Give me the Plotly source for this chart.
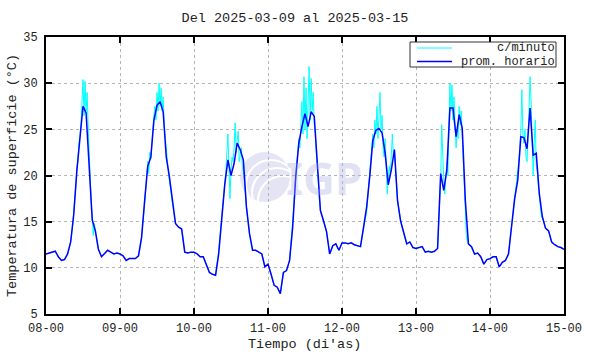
import plotly.graph_objects as go
from datetime import datetime, timedelta

# ---------------- data ----------------
start = datetime(2025, 3, 8)
tick_labels = ["08-00", "09-00", "10-00", "11-00", "12-00", "13-00", "14-00", "15-00"]

# hourly averages (prom. horario), hours 0..23 of each day
day1 = [11.5, 11.6, 11.7, 11.8, 11.2, 10.8, 10.9, 11.5, 12.8, 15.8, 20.5, 24.0,
        27.5, 26.8, 21.5, 15.2, 14.0, 12.0, 11.2, 11.5, 11.9, 11.7, 11.5, 11.6]
day2 = [11.5, 11.3, 10.8, 11.0, 11.0, 11.0, 11.3, 13.3, 17.3, 21.0, 22.0, 26.0,
        27.6, 28.0, 26.9, 22.0, 19.9, 17.0, 14.8, 14.4, 14.2, 11.7, 11.6, 11.7]
day3 = [11.7, 11.5, 11.2, 11.2, 10.4, 9.5, 9.3, 9.2, 11.5, 15.5, 19.1, 21.7,
        20.0, 21.3, 23.5, 22.8, 21.7, 16.6, 13.7, 11.9, 11.9, 11.7, 11.5, 10.1]
day4 = [10.4, 9.3, 8.1, 7.9, 7.2, 9.5, 9.7, 10.8, 14.4, 19.9, 23.5, 25.3,
        26.7, 25.3, 26.9, 26.4, 20.9, 16.2, 15.1, 13.9, 11.5, 12.4, 12.6, 11.9]
day5 = [12.7, 12.7, 12.6, 12.7, 12.5, 12.4, 12.3, 14.4, 16.6, 19.9, 23.8, 24.9,
        25.1, 24.6, 22.4, 19.0, 20.6, 22.8, 17.3, 15.1, 13.7, 12.6, 12.8, 12.2]
day6 = [12.1, 12.2, 12.3, 11.7, 11.8, 11.7, 11.8, 12.1, 20.2, 18.4, 20.6, 27.3,
        27.3, 24.2, 26.6, 25.1, 17.3, 12.6, 12.3, 11.5, 11.6, 11.2, 10.4, 10.9]
day7 = [11.0, 11.2, 11.2, 10.1, 10.6, 10.8, 11.5, 14.5, 17.5, 19.5, 24.2, 24.1,
        22.9, 27.3, 22.2, 22.4, 18.0, 15.5, 14.3, 14.0, 12.8, 12.5, 12.3, 12.2]
last_value = [12.0]

# minute readings (c/minuto) during daytime, every 20 min from 08:00 to 16:40
cyan1 = [12.8, 13.5, 14.6, 16.0, 17.2, 18.8, 20.8, 21.5, 23.5, 24.2, 25.5, 28.5, 30.4, 26.5,
         30.2, 27.0, 29.0, 25.5, 22.0, 19.5, 17.0, 15.5, 13.5, 14.8, 14.0, 13.2, 12.5]
cyan2 = [17.0, 18.5, 20.0, 21.5, 20.2, 22.5, 21.8, 23.0, 25.0, 26.5, 27.5, 26.0, 29.0, 27.0,
         30.0, 27.5, 29.5, 27.0, 28.5, 25.5, 24.0, 22.5, 21.0, 20.5, 19.5, 18.5, 17.5]
cyan3 = [11.8, 13.0, 14.5, 15.8, 17.0, 18.5, 19.5, 20.5, 22.5, 24.5, 21.0, 17.5, 20.5, 22.0,
         21.5, 23.0, 25.7, 22.5, 23.8, 24.8, 21.5, 22.5, 23.0, 21.0, 20.5, 19.5, 17.5]
cyan4 = [14.6, 16.5, 18.5, 20.0, 21.5, 23.0, 24.0, 23.0, 26.5, 28.0, 24.5, 30.7, 25.0, 29.5,
         24.0, 28.5, 31.8, 26.0, 30.5, 27.0, 29.0, 25.5, 24.5, 22.5, 20.5, 19.0, 17.5]
cyan5 = [16.0, 17.5, 19.0, 20.5, 22.0, 23.5, 24.5, 23.0, 26.0, 24.5, 27.5, 24.0, 27.0, 29.0,
         25.0, 26.5, 23.0, 22.0, 24.0, 20.5, 18.0, 19.5, 21.0, 20.0, 23.0, 24.5, 22.0]
cyan6 = [19.5, 25.5, 21.0, 19.5, 18.0, 19.5, 21.5, 20.0, 24.0, 30.0, 27.0, 29.8, 26.0, 28.5,
         25.5, 23.0, 25.0, 24.0, 27.5, 25.5, 27.0, 24.5, 22.0, 18.0, 15.5, 13.5, 12.8]
cyan7 = [17.0, 18.5, 19.0, 20.0, 21.5, 23.0, 25.0, 29.3, 24.5, 23.5, 25.0, 22.0, 21.5, 24.0,
         27.0, 30.7, 28.0, 24.5, 20.0, 23.5, 26.0, 21.0, 20.5, 19.0, 17.5, 16.0, 15.5]

hourly_days = [day1, day2, day3, day4, day5, day6, day7]
cyan_days = [cyan1, cyan2, cyan3, cyan4, cyan5, cyan6, cyan7]

# ---------------- build series ----------------
hourly = [v for d in hourly_days for v in d] + last_value
hourly_t = [start + timedelta(hours=i) for i in range(len(hourly))]

cyan_t, cyan_v = [], []
for d, (hd, cd) in enumerate(zip(hourly_days, cyan_days)):
    base = start + timedelta(days=d)
    pts = []
    for h, v in enumerate(hd):
        if h < 8 or h >= 17:
            pts.append((base + timedelta(hours=h), v))
    for k, v in enumerate(cd):
        pts.append((base + timedelta(minutes=480 + 20 * k), v))
    pts.sort()
    cyan_t += [p[0] for p in pts]
    cyan_v += [p[1] for p in pts]
cyan_t.append(hourly_t[-1])
cyan_v.append(last_value[0])

# ---------------- figure ----------------
FONT = "Liberation Mono"
TXT = "#222222"
L, R, T, B = 46, 26, 37, 40
W, H = 590, 354
pw, ph = W - L - R, H - T - B


def px(x):
    return (x - L) / pw


def py(y):
    return (H - B - y) / ph


fig = go.Figure()
fig.add_trace(go.Scatter(x=cyan_t, y=cyan_v, mode="lines", name="c/minuto",
                         line=dict(color="#00ffff", width=1), showlegend=False))
fig.add_trace(go.Scatter(x=hourly_t, y=hourly, mode="lines", name="prom. horario",
                         line=dict(color="#0000ff", width=1.5), showlegend=False))

tickvals = [start + timedelta(days=i) for i in range(len(tick_labels))]

fig.update_layout(
    width=W, height=H,
    margin=dict(l=L, r=R, t=T, b=B, autoexpand=False),
    paper_bgcolor="white", plot_bgcolor="white",
    font=dict(family=FONT, size=12, color=TXT),
    title=dict(text="Del 2025-03-09 al 2025-03-15", x=0.5, xanchor="center",
               y=1 - 17 / H, yanchor="middle", font=dict(family=FONT, size=13.5, color=TXT)),
    xaxis=dict(
        range=[tickvals[0], tickvals[-1]], tickvals=tickvals, ticktext=tick_labels,
        showgrid=True, gridcolor="#b4b4b4", griddash="dot", gridwidth=1,
        showline=True, linecolor="black", linewidth=2, mirror="allticks",
        ticks="inside", ticklen=6, tickwidth=1.5, tickcolor="black",
        tickfont=dict(family=FONT, size=12, color=TXT), zeroline=False,
        ticklabelstandoff=2,
    ),
    yaxis=dict(
        range=[5, 35], tickmode="linear", tick0=5, dtick=5,
        showgrid=True, gridcolor="#b4b4b4", griddash="dot", gridwidth=1,
        showline=True, linecolor="black", linewidth=2, mirror="allticks",
        ticks="inside", ticklen=6, tickwidth=1.5, tickcolor="black",
        tickfont=dict(family=FONT, size=12, color=TXT), zeroline=False,
        ticklabelstandoff=4,
    ),
)

# axis titles
fig.add_annotation(text="Tiempo (di'as)", xref="paper", yref="paper",
                   x=px(304), y=py(344), xanchor="center", yanchor="middle",
                   showarrow=False, font=dict(family=FONT, size=13.5, color=TXT))
fig.add_annotation(text="Temperatura de superficie (°C)", xref="paper", yref="paper",
                   x=px(12), y=py(176), xanchor="center", yanchor="middle", textangle=-90,
                   showarrow=False, font=dict(family=FONT, size=13.5, color=TXT))

# watermark (IGP logo)
fig.add_shape(type="circle", xref="paper", yref="paper", layer="below",
              x0=px(240), x1=px(290), y0=py(202), y1=py(152),
              fillcolor="#e4e4f5", line=dict(width=0))
for (a, b, c, d) in [(246, 160, 296, 210), (252, 168, 302, 218), (258, 176, 308, 226)]:
    fig.add_shape(type="circle", xref="paper", yref="paper", layer="below",
                  x0=px(a), x1=px(c), y0=py(d), y1=py(b),
                  fillcolor="rgba(0,0,0,0)", line=dict(color="white", width=2))
fig.add_annotation(text="<b>IGP</b>", xref="paper", yref="paper", x=px(324), y=py(178),
                   xanchor="center", yanchor="middle", showarrow=False,
                   font=dict(family="Noto Sans", size=44, color="rgba(170,170,225,0.35)"))

# legend (drawn by hand to match the boxed key)
fig.add_shape(type="rect", xref="paper", yref="paper", x0=px(410), x1=px(556),
              y0=py(67), y1=py(42), line=dict(color="#333333", width=1), fillcolor="white")
fig.add_shape(type="line", xref="paper", yref="paper", x0=px(417), x1=px(452),
              y0=py(48), y1=py(48), line=dict(color="#00ffff", width=1))
fig.add_shape(type="line", xref="paper", yref="paper", x0=px(417), x1=px(452),
              y0=py(61.5), y1=py(61.5), line=dict(color="#0000ff", width=1.5))
for name, yy in [("c/minuto", 48), ("prom. horario", 61.5)]:
    fig.add_annotation(text=name, xref="paper", yref="paper", x=px(556), y=py(yy),
                       xanchor="right", yanchor="middle", showarrow=False, borderpad=0,
                       font=dict(family=FONT, size=12, color=TXT))

# the page's default body margin would offset the figure by 8px; remove it
fig.write_html("out.html", config={"displayModeBar": False},
               post_script="document.body.style.margin='0px';")
